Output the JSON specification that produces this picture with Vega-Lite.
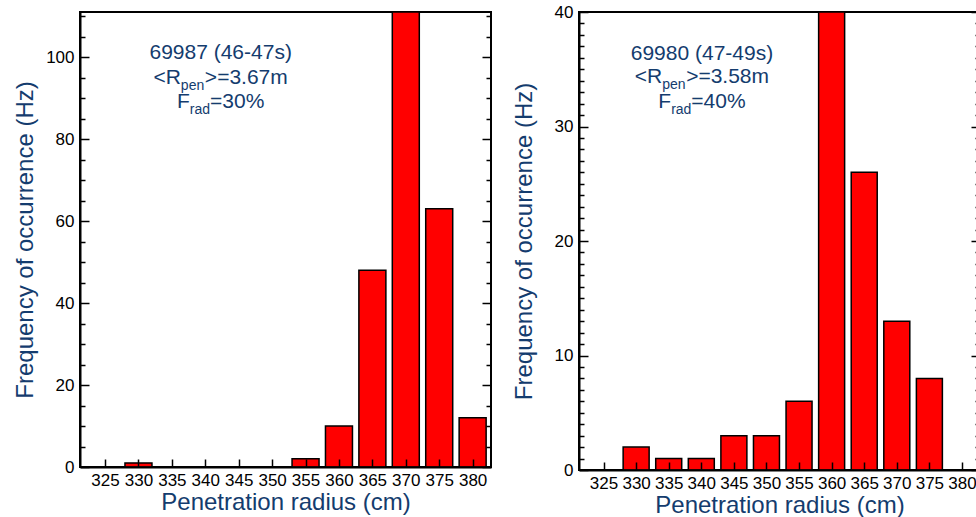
{
  "$schema": "https://vega.github.io/schema/vega-lite/v6.json",
  "padding": {"left": 12, "top": 2, "right": 0, "bottom": 0},
  "background": "white",
  "bounds": "flush",
  "spacing": 88,
  "datasets": {
    "p1": [
      {"r": 325, "f": 0}, {"r": 330, "f": 1}, {"r": 335, "f": 0}, {"r": 340, "f": 0},
      {"r": 345, "f": 0}, {"r": 350, "f": 0}, {"r": 355, "f": 2}, {"r": 360, "f": 10},
      {"r": 365, "f": 48}, {"r": 370, "f": 111}, {"r": 375, "f": 63}, {"r": 380, "f": 12}
    ],
    "p2": [
      {"r": 325, "f": 0}, {"r": 330, "f": 2}, {"r": 335, "f": 1}, {"r": 340, "f": 1},
      {"r": 345, "f": 3}, {"r": 350, "f": 3}, {"r": 355, "f": 6}, {"r": 360, "f": 40},
      {"r": 365, "f": 26}, {"r": 370, "f": 13}, {"r": 375, "f": 8}, {"r": 380, "f": 0}
    ],
    "one": [{"k": 1}]
  },
  "config": {
    "view": {"stroke": "#000000", "strokeWidth": 2},
    "font": "Liberation Sans",
    "text": {"fontWeight": "normal", "font": "Liberation Sans"},
    "axis": {
      "zindex": 1,
      "grid": false,
      "domainColor": "#000000",
      "domainWidth": 2,
      "tickColor": "#000000",
      "tickWidth": 1.5,
      "labelColor": "#000000",
      "labelFont": "Liberation Sans",
      "labelFontSize": 17,
      "labelFlush": false,
      "labelOverlap": false,
      "titleColor": "#143c6e",
      "titleFont": "Liberation Sans",
      "titleFontSize": 24,
      "titleFontWeight": "normal"
    }
  },
  "hconcat": [
    {
      "width": 411,
      "height": 455,
      "data": {"name": "p1"},
      "layer": [
        {
          "mark": {"type": "bar", "width": 27, "color": "#ff0000", "stroke": "#000000", "strokeWidth": 1.5},
          "encoding": {
            "x": {"field": "r", "type": "quantitative", "scale": {"domain": [322, 382], "nice": false, "zero": false},
                  "axis": {"orient": "bottom", "zindex": 2, "values": [325,330,335,340,345,350,355,360,365,370,375,380], "labelOverlap": false, "labelBound": false, "tickSize": -8, "labelPadding": 13, "title": "Penetration radius (cm)", "titlePadding": 2}},
            "y": {"field": "f", "type": "quantitative", "scale": {"domain": [0, 111], "nice": false},
                  "axis": {"orient": "left", "values": [0,20,40,60,80,100], "ticks": false, "labelPadding": 6, "title": "Frequency of occurrence (Hz)", "titlePadding": 8}}
          }
        },
        {
          "mark": {"type": "point", "opacity": 0},
          "encoding": {
            "x": {"field": "r", "type": "quantitative", "axis": {"orient": "bottom", "zindex": 2, "values": [325,330,335,340,345,350,355,360,365,370,375,380], "labelOverlap": false, "labelBound": false, "tickSize": -8, "labelPadding": 13, "title": "Penetration radius (cm)", "titlePadding": 2}},
            "y": {"field": "f", "type": "quantitative", "axis": {"orient": "left", "values": [0,20,40,60,80,100], "tickSize": -9, "labels": false, "domain": false, "title": null}}
          }
        },
        {
          "mark": {"type": "point", "opacity": 0},
          "encoding": {
            "x": {"field": "r", "type": "quantitative", "axis": {"orient": "bottom", "zindex": 2, "values": [325,330,335,340,345,350,355,360,365,370,375,380], "labelOverlap": false, "labelBound": false, "tickSize": -8, "labelPadding": 13, "title": "Penetration radius (cm)", "titlePadding": 2}},
            "y": {"field": "f", "type": "quantitative", "axis": {"orient": "left", "values": [5,10,15,25,30,35,45,50,55,65,70,75,85,90,95,105,110], "tickSize": -5, "labels": false, "domain": false, "title": null}}
          }
        },
        {
          "mark": {"type": "point", "opacity": 0},
          "encoding": {
            "x": {"field": "r", "type": "quantitative", "axis": {"orient": "bottom", "zindex": 2, "values": [325,330,335,340,345,350,355,360,365,370,375,380], "labelOverlap": false, "labelBound": false, "tickSize": -8, "labelPadding": 13, "title": "Penetration radius (cm)", "titlePadding": 2}},
            "y": {"field": "f", "type": "quantitative", "axis": {"orient": "right", "values": [0,20,40,60,80,100], "tickSize": -9, "labels": false, "domain": false, "title": null}}
          }
        },
        {
          "mark": {"type": "point", "opacity": 0},
          "encoding": {
            "x": {"field": "r", "type": "quantitative", "axis": {"orient": "bottom", "zindex": 2, "values": [325,330,335,340,345,350,355,360,365,370,375,380], "labelOverlap": false, "labelBound": false, "tickSize": -8, "labelPadding": 13, "title": "Penetration radius (cm)", "titlePadding": 2}},
            "y": {"field": "f", "type": "quantitative", "axis": {"orient": "right", "values": [5,10,15,25,30,35,45,50,55,65,70,75,85,90,95,105,110], "tickSize": -5, "labels": false, "domain": false, "title": null}}
          }
        },
        {
          "data": {"name": "one"},
          "mark": {"type": "text", "text": "69987 (46-47s)", "fontSize": 21, "fontWeight": "normal", "color": "#143c6e", "align": "center", "baseline": "alphabetic"},
          "encoding": {"x": {"datum": 342.3, "type": "quantitative", "axis": {"orient": "bottom", "zindex": 2, "values": [325,330,335,340,345,350,355,360,365,370,375,380], "labelOverlap": false, "labelBound": false, "tickSize": -8, "labelPadding": 13, "title": "Penetration radius (cm)", "titlePadding": 2}}, "y": {"datum": 99.5, "type": "quantitative", "axis": null}}
        },
        {
          "data": {"name": "one"},
          "mark": {"type": "text", "text": "<R", "fontSize": 21, "fontWeight": "normal", "color": "#143c6e", "align": "right", "baseline": "alphabetic", "dx": -39.8},
          "encoding": {"x": {"datum": 342.3, "type": "quantitative", "axis": {"orient": "bottom", "zindex": 2, "values": [325,330,335,340,345,350,355,360,365,370,375,380], "labelOverlap": false, "labelBound": false, "tickSize": -8, "labelPadding": 13, "title": "Penetration radius (cm)", "titlePadding": 2}}, "y": {"datum": 93.5, "type": "quantitative", "axis": null}}
        },
        {
          "data": {"name": "one"},
          "mark": {"type": "text", "text": "pen", "fontSize": 14, "fontWeight": "normal", "color": "#143c6e", "align": "left", "baseline": "alphabetic", "dx": -39.8, "dy": 6},
          "encoding": {"x": {"datum": 342.3, "type": "quantitative", "axis": {"orient": "bottom", "zindex": 2, "values": [325,330,335,340,345,350,355,360,365,370,375,380], "labelOverlap": false, "labelBound": false, "tickSize": -8, "labelPadding": 13, "title": "Penetration radius (cm)", "titlePadding": 2}}, "y": {"datum": 93.5, "type": "quantitative", "axis": null}}
        },
        {
          "data": {"name": "one"},
          "mark": {"type": "text", "text": ">=3.67m", "fontSize": 21, "fontWeight": "normal", "color": "#143c6e", "align": "left", "baseline": "alphabetic", "dx": -15.8},
          "encoding": {"x": {"datum": 342.3, "type": "quantitative", "axis": {"orient": "bottom", "zindex": 2, "values": [325,330,335,340,345,350,355,360,365,370,375,380], "labelOverlap": false, "labelBound": false, "tickSize": -8, "labelPadding": 13, "title": "Penetration radius (cm)", "titlePadding": 2}}, "y": {"datum": 93.5, "type": "quantitative", "axis": null}}
        },
        {
          "data": {"name": "one"},
          "mark": {"type": "text", "text": "F", "fontSize": 21, "fontWeight": "normal", "color": "#143c6e", "align": "right", "baseline": "alphabetic", "dx": -30.8},
          "encoding": {"x": {"datum": 342.3, "type": "quantitative", "axis": {"orient": "bottom", "zindex": 2, "values": [325,330,335,340,345,350,355,360,365,370,375,380], "labelOverlap": false, "labelBound": false, "tickSize": -8, "labelPadding": 13, "title": "Penetration radius (cm)", "titlePadding": 2}}, "y": {"datum": 87.5, "type": "quantitative", "axis": null}}
        },
        {
          "data": {"name": "one"},
          "mark": {"type": "text", "text": "rad", "fontSize": 14, "fontWeight": "normal", "color": "#143c6e", "align": "left", "baseline": "alphabetic", "dx": -30.8, "dy": 5.5},
          "encoding": {"x": {"datum": 342.3, "type": "quantitative", "axis": {"orient": "bottom", "zindex": 2, "values": [325,330,335,340,345,350,355,360,365,370,375,380], "labelOverlap": false, "labelBound": false, "tickSize": -8, "labelPadding": 13, "title": "Penetration radius (cm)", "titlePadding": 2}}, "y": {"datum": 87.5, "type": "quantitative", "axis": null}}
        },
        {
          "data": {"name": "one"},
          "mark": {"type": "text", "text": "=30%", "fontSize": 21, "fontWeight": "normal", "color": "#143c6e", "align": "left", "baseline": "alphabetic", "dx": -10.6},
          "encoding": {"x": {"datum": 342.3, "type": "quantitative", "axis": {"orient": "bottom", "zindex": 2, "values": [325,330,335,340,345,350,355,360,365,370,375,380], "labelOverlap": false, "labelBound": false, "tickSize": -8, "labelPadding": 13, "title": "Penetration radius (cm)", "titlePadding": 2}}, "y": {"datum": 87.5, "type": "quantitative", "axis": null}}
        }
      ],
      "resolve": {"axis": {"y": "independent"}}
    },
    {
      "width": 401,
      "height": 458,
      "data": {"name": "p2"},
      "layer": [
        {
          "mark": {"type": "bar", "width": 26, "color": "#ff0000", "stroke": "#000000", "strokeWidth": 1.5},
          "encoding": {
            "x": {"field": "r", "type": "quantitative", "scale": {"domain": [322, 382], "nice": false, "zero": false},
                  "axis": {"orient": "bottom", "zindex": 2, "values": [325,330,335,340,345,350,355,360,365,370,375,380], "labelOverlap": false, "labelBound": false, "tickSize": -8, "labelPadding": 13, "title": "Penetration radius (cm)", "titlePadding": 2}},
            "y": {"field": "f", "type": "quantitative", "scale": {"domain": [0, 40], "nice": false},
                  "axis": {"orient": "left", "values": [0,10,20,30,40], "ticks": false, "labelPadding": 6, "title": "Frequency of occurrence (Hz)", "titlePadding": 18}}
          }
        },
        {
          "mark": {"type": "point", "opacity": 0},
          "encoding": {
            "x": {"field": "r", "type": "quantitative", "axis": {"orient": "bottom", "zindex": 2, "values": [325,330,335,340,345,350,355,360,365,370,375,380], "labelOverlap": false, "labelBound": false, "tickSize": -8, "labelPadding": 13, "title": "Penetration radius (cm)", "titlePadding": 2}},
            "y": {"field": "f", "type": "quantitative", "axis": {"orient": "left", "values": [0,10,20,30,40], "tickSize": -9, "labels": false, "domain": false, "title": null}}
          }
        },
        {
          "mark": {"type": "point", "opacity": 0},
          "encoding": {
            "x": {"field": "r", "type": "quantitative", "axis": {"orient": "bottom", "zindex": 2, "values": [325,330,335,340,345,350,355,360,365,370,375,380], "labelOverlap": false, "labelBound": false, "tickSize": -8, "labelPadding": 13, "title": "Penetration radius (cm)", "titlePadding": 2}},
            "y": {"field": "f", "type": "quantitative", "axis": {"orient": "left", "values": [1,2,3,4,5,6,7,8,9,11,12,13,14,15,16,17,18,19,21,22,23,24,25,26,27,28,29,31,32,33,34,35,36,37,38,39], "tickSize": -5, "labels": false, "domain": false, "title": null}}
          }
        },
        {
          "mark": {"type": "point", "opacity": 0},
          "encoding": {
            "x": {"field": "r", "type": "quantitative", "axis": {"orient": "bottom", "zindex": 2, "values": [325,330,335,340,345,350,355,360,365,370,375,380], "labelOverlap": false, "labelBound": false, "tickSize": -8, "labelPadding": 13, "title": "Penetration radius (cm)", "titlePadding": 2}},
            "y": {"field": "f", "type": "quantitative", "axis": {"orient": "right", "values": [0,10,20,30,40], "tickSize": -9, "labels": false, "domain": false, "title": null}}
          }
        },
        {
          "mark": {"type": "point", "opacity": 0},
          "encoding": {
            "x": {"field": "r", "type": "quantitative", "axis": {"orient": "bottom", "zindex": 2, "values": [325,330,335,340,345,350,355,360,365,370,375,380], "labelOverlap": false, "labelBound": false, "tickSize": -8, "labelPadding": 13, "title": "Penetration radius (cm)", "titlePadding": 2}},
            "y": {"field": "f", "type": "quantitative", "axis": {"orient": "right", "values": [1,2,3,4,5,6,7,8,9,11,12,13,14,15,16,17,18,19,21,22,23,24,25,26,27,28,29,31,32,33,34,35,36,37,38,39], "tickSize": -5, "labels": false, "domain": false, "title": null}}
          }
        },
        {
          "data": {"name": "one"},
          "mark": {"type": "text", "text": "69980 (47-49s)", "fontSize": 21, "fontWeight": "normal", "color": "#143c6e", "align": "center", "baseline": "alphabetic"},
          "encoding": {"x": {"datum": 340.1, "type": "quantitative", "axis": {"orient": "bottom", "zindex": 2, "values": [325,330,335,340,345,350,355,360,365,370,375,380], "labelOverlap": false, "labelBound": false, "tickSize": -8, "labelPadding": 13, "title": "Penetration radius (cm)", "titlePadding": 2}}, "y": {"datum": 35.8, "type": "quantitative", "axis": null}}
        },
        {
          "data": {"name": "one"},
          "mark": {"type": "text", "text": "<R", "fontSize": 21, "fontWeight": "normal", "color": "#143c6e", "align": "right", "baseline": "alphabetic", "dx": -39.8},
          "encoding": {"x": {"datum": 340.1, "type": "quantitative", "axis": {"orient": "bottom", "zindex": 2, "values": [325,330,335,340,345,350,355,360,365,370,375,380], "labelOverlap": false, "labelBound": false, "tickSize": -8, "labelPadding": 13, "title": "Penetration radius (cm)", "titlePadding": 2}}, "y": {"datum": 33.8, "type": "quantitative", "axis": null}}
        },
        {
          "data": {"name": "one"},
          "mark": {"type": "text", "text": "pen", "fontSize": 14, "fontWeight": "normal", "color": "#143c6e", "align": "left", "baseline": "alphabetic", "dx": -39.8, "dy": 6},
          "encoding": {"x": {"datum": 340.1, "type": "quantitative", "axis": {"orient": "bottom", "zindex": 2, "values": [325,330,335,340,345,350,355,360,365,370,375,380], "labelOverlap": false, "labelBound": false, "tickSize": -8, "labelPadding": 13, "title": "Penetration radius (cm)", "titlePadding": 2}}, "y": {"datum": 33.8, "type": "quantitative", "axis": null}}
        },
        {
          "data": {"name": "one"},
          "mark": {"type": "text", "text": ">=3.58m", "fontSize": 21, "fontWeight": "normal", "color": "#143c6e", "align": "left", "baseline": "alphabetic", "dx": -15.8},
          "encoding": {"x": {"datum": 340.1, "type": "quantitative", "axis": {"orient": "bottom", "zindex": 2, "values": [325,330,335,340,345,350,355,360,365,370,375,380], "labelOverlap": false, "labelBound": false, "tickSize": -8, "labelPadding": 13, "title": "Penetration radius (cm)", "titlePadding": 2}}, "y": {"datum": 33.8, "type": "quantitative", "axis": null}}
        },
        {
          "data": {"name": "one"},
          "mark": {"type": "text", "text": "F", "fontSize": 21, "fontWeight": "normal", "color": "#143c6e", "align": "right", "baseline": "alphabetic", "dx": -30.8},
          "encoding": {"x": {"datum": 340.1, "type": "quantitative", "axis": {"orient": "bottom", "zindex": 2, "values": [325,330,335,340,345,350,355,360,365,370,375,380], "labelOverlap": false, "labelBound": false, "tickSize": -8, "labelPadding": 13, "title": "Penetration radius (cm)", "titlePadding": 2}}, "y": {"datum": 31.6, "type": "quantitative", "axis": null}}
        },
        {
          "data": {"name": "one"},
          "mark": {"type": "text", "text": "rad", "fontSize": 14, "fontWeight": "normal", "color": "#143c6e", "align": "left", "baseline": "alphabetic", "dx": -30.8, "dy": 5.5},
          "encoding": {"x": {"datum": 340.1, "type": "quantitative", "axis": {"orient": "bottom", "zindex": 2, "values": [325,330,335,340,345,350,355,360,365,370,375,380], "labelOverlap": false, "labelBound": false, "tickSize": -8, "labelPadding": 13, "title": "Penetration radius (cm)", "titlePadding": 2}}, "y": {"datum": 31.6, "type": "quantitative", "axis": null}}
        },
        {
          "data": {"name": "one"},
          "mark": {"type": "text", "text": "=40%", "fontSize": 21, "fontWeight": "normal", "color": "#143c6e", "align": "left", "baseline": "alphabetic", "dx": -10.6},
          "encoding": {"x": {"datum": 340.1, "type": "quantitative", "axis": {"orient": "bottom", "zindex": 2, "values": [325,330,335,340,345,350,355,360,365,370,375,380], "labelOverlap": false, "labelBound": false, "tickSize": -8, "labelPadding": 13, "title": "Penetration radius (cm)", "titlePadding": 2}}, "y": {"datum": 31.6, "type": "quantitative", "axis": null}}
        }
      ],
      "resolve": {"axis": {"y": "independent"}}
    }
  ]
}
